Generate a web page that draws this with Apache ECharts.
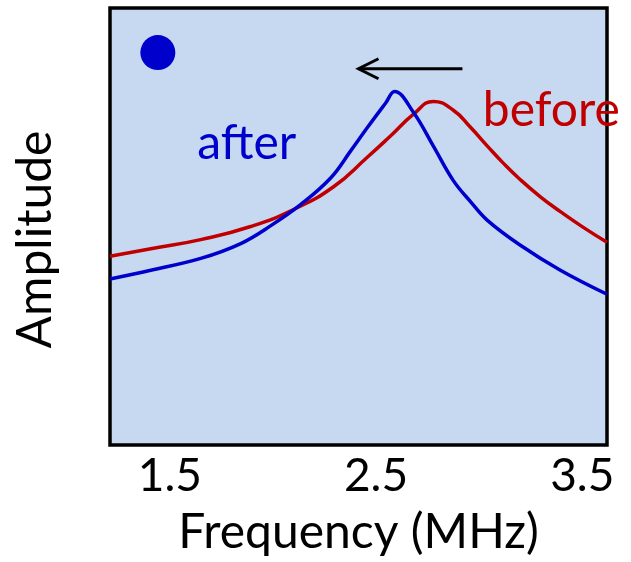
<!DOCTYPE html>
<html>
<head>
<meta charset="utf-8">
<script src="https://cdn.jsdelivr.net/npm/echarts@6/dist/echarts.min.js"></script>
<style>
  html, body { margin: 0; padding: 0; background: #fff; }
  #chart { width: 631px; height: 562px; }
</style>
</head>
<body>
<div id="chart"></div>
<script>
  // curves (frequency in MHz, amplitude in arbitrary units)
  var beforeFreq = [1.21, 1.408, 1.65, 1.892, 2.10, 2.294, 2.459, 2.57, 2.682, 2.778, 2.875, 2.958, 3.04, 3.117, 3.20, 3.297, 3.394, 3.505, 3.62];
  var beforeAmp  = [43.2, 44.9, 47.0, 50.0, 53.9, 59.1, 65.9, 70.7, 75.7, 78.6, 76.6, 72.7, 68.4, 64.5, 60.7, 56.8, 53.4, 49.8, 46.4];
  var afterFreq  = [1.21, 1.408, 1.65, 1.844, 1.99, 2.134, 2.28, 2.377, 2.459, 2.546, 2.59, 2.682, 2.778, 2.875, 2.958, 3.04, 3.20, 3.394, 3.62];
  var afterAmp   = [38.0, 40.0, 42.7, 46.1, 50.2, 55.0, 61.1, 67.3, 72.7, 78.2, 80.9, 76.1, 68.4, 60.5, 55.7, 51.4, 45.7, 40.0, 34.5];
  var xTicks = [1.5, 2.5, 3.5];

  // annotations, in data coordinates
  var dotPos = [1.442, 89.8];
  var afterLabelPos = [1.873, 68.9];
  var beforeLabelPos = [3.35, 76.6];
  var arrowFrom = [2.919, 86.1];
  var arrowTo = [2.415, 86.1];

  var font = 'Lato';
  var blue = '#0000cc';
  var red = '#c00000';

  function pairs(xs, ys) {
    return xs.map(function (x, i) { return [x, ys[i]]; });
  }

  var myChart = echarts.init(document.getElementById('chart'));
  myChart.setOption({
    animation: false,
    grid: {
      left: 110,
      right: 24,
      top: 8,
      bottom: 114,
      show: true,
      backgroundColor: '#c6d9f1',
      borderColor: '#000',
      borderWidth: 3.5
    },
    xAxis: {
      type: 'value',
      min: 1.21,
      max: 3.62,
      name: 'Frequency (MHz)',
      nameLocation: 'middle',
      nameGap: 64,
      nameTextStyle: { fontFamily: font, fontSize: 48, color: '#000' },
      axisLine: { show: false },
      axisTick: { show: false },
      splitLine: { show: false },
      axisLabel: {
        customValues: xTicks,
        margin: 8,
        fontFamily: font,
        fontSize: 46,
        color: '#000',
        formatter: function (v) { return v.toFixed(1); }
      }
    },
    yAxis: {
      type: 'value',
      min: 0,
      max: 100,
      name: 'Amplitude',
      nameLocation: 'middle',
      nameGap: 50,
      nameTextStyle: { fontFamily: font, fontSize: 48, color: '#000', padding: [0, 26, 0, 0] },
      axisLine: { show: false },
      axisTick: { show: false },
      axisLabel: { show: false },
      splitLine: { show: false }
    },
    series: [
      {
        name: 'before',
        type: 'line',
        data: pairs(beforeFreq, beforeAmp),
        smooth: 0.5,
        showSymbol: false,
        lineStyle: { color: red, width: 3.5 },
        z: 3
      },
      {
        name: 'after',
        type: 'line',
        data: pairs(afterFreq, afterAmp),
        smooth: 0.4,
        showSymbol: false,
        lineStyle: { color: blue, width: 3.5 },
        z: 4
      },
      {
        type: 'scatter',
        data: [dotPos],
        symbolSize: 35,
        itemStyle: { color: blue, opacity: 1 },
        z: 5
      }
    ]
  });

  var pa = myChart.convertToPixel({ gridIndex: 0 }, afterLabelPos);
  var pb = myChart.convertToPixel({ gridIndex: 0 }, beforeLabelPos);
  var p1 = myChart.convertToPixel({ gridIndex: 0 }, arrowFrom);
  var p2 = myChart.convertToPixel({ gridIndex: 0 }, arrowTo);

  myChart.setOption({
    graphic: [
      {
        type: 'text', x: pa[0], y: pa[1], z: 10,
        style: { text: 'after', fill: blue, font: '48px ' + font, align: 'center', verticalAlign: 'middle' }
      },
      {
        type: 'text', x: pb[0], y: pb[1], z: 10,
        style: { text: 'before', fill: red, font: '48px ' + font, align: 'center', verticalAlign: 'middle' }
      },
      {
        type: 'line', z: 10,
        shape: { x1: p1[0], y1: p1[1], x2: p2[0], y2: p2[1] },
        style: { stroke: '#000', lineWidth: 3 }
      },
      {
        type: 'polyline', z: 10,
        shape: { points: [[p2[0] + 20, p2[1] - 10], [p2[0], p2[1]], [p2[0] + 20, p2[1] + 10]] },
        style: { stroke: '#000', lineWidth: 3, fill: null }
      }
    ]
  });
</script>
</body>
</html>
